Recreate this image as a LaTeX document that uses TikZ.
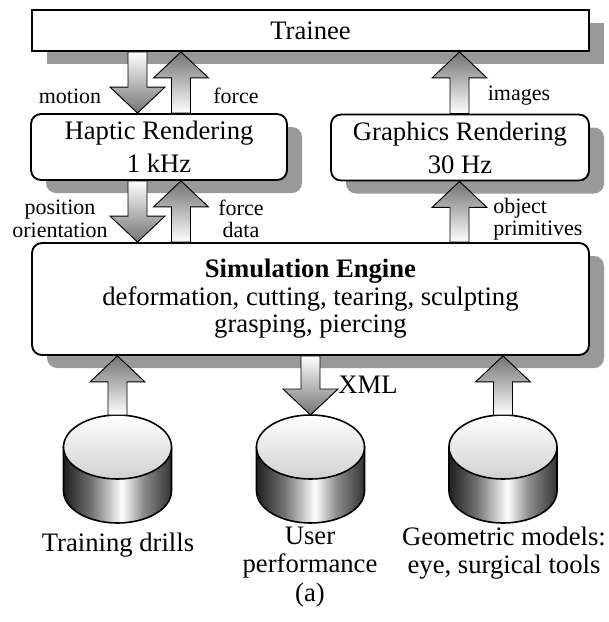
\documentclass[tikz,border=0pt]{standalone}
\usepackage{fontspec}
\setmainfont{Liberation Serif}
\usetikzlibrary{shadows,calc}
\pgfdeclarehorizontalshading{cylbody}{100bp}{color(0bp)=(black!88); color(25bp)=(black!88); color(38bp)=(black!55); color(52bp)=(white); color(62bp)=(black!45); color(75bp)=(black!80); color(100bp)=(black!80)}
\newcommand{\blockarr}[3]{%
  \draw[#1] let \p1=(#2), \p2=(#3), \n1={ifthenelse(\y2>\y1,1,-1)} in
    (\x1-7.125pt,\y1) -- (\x1-7.125pt,\y2-19.5pt*\n1) -- (\x1-20.625pt,\y2-19.5pt*\n1) -- (\x2,\y2)
    -- (\x1+20.625pt,\y2-19.5pt*\n1) -- (\x1+7.125pt,\y2-19.5pt*\n1) -- (\x1+7.125pt,\y1) -- cycle;
}
\newcommand{\dbcyl}[2]{%
  \path[cylline, shade, shading=cylbody] (#2-54,447) -- (#2-54,491) arc[start angle=180, end angle=0, x radius=54, y radius=32] -- (#2+54,447) -- cycle;
  \path[cylline, top color=white, bottom color=black!18] (#2,447) ellipse[x radius=54, y radius=32];
  \coordinate (#1) at (#2,415);
}
\begin{document}
\begin{tikzpicture}[x=0.75pt,y=-0.75pt,
  box/.style={draw, line width=1.4pt, fill=white, inner sep=0pt, align=center,
    font=\fontsize{20}{24.75}\selectfont,
    drop shadow={shadow xshift=11.25pt, shadow yshift=-9.75pt, fill=black!40, opacity=1}},
  rbox/.style={box, rounded corners=7.5pt},
  lbl/.style={inner sep=0pt, align=center, font=\fontsize{16.5}{16.8}\selectfont},
  blbl/.style={inner sep=0pt, align=center, font=\fontsize{20}{21}\selectfont},
  barrow/.style={draw, line width=0.7pt},
  darr/.style={barrow, top color=white, bottom color=black!55},
  uarr/.style={barrow, top color=black!55, bottom color=white},
  cylline/.style={draw, line width=1.2pt}
]
\useasboundingbox (0,0) rectangle (608,622);

\coordinate (cA) at (137.5,0);
\coordinate (cB) at (181,0);
\coordinate (cC) at (459.5,0);

\node[box, minimum width=417.75pt, minimum height=30.75pt] (trainee) at (310.5,30.5) {Trainee};
\node[rbox, minimum width=192pt, minimum height=49.5pt] (haptic) at (159,147) {Haptic Rendering\\1 kHz};
\node[rbox, minimum width=193.5pt, minimum height=49.5pt] (graphics) at (460,147.5) {Graphics Rendering\\30 Hz};
\node[rbox, minimum width=417.75pt, minimum height=84pt, font=\fontsize{20}{20.6}\selectfont] (sim) at (310.5,299)
  {\textbf{Simulation Engine}\\deformation, cutting, tearing, sculpting\\grasping, piercing};

\dbcyl{db1}{117.5}
\dbcyl{db2}{310.5}
\dbcyl{db3}{503}

\blockarr{darr}{trainee.south -| cA}{haptic.north -| cA}
\blockarr{uarr}{haptic.north -| cB}{trainee.south -| cB}
\blockarr{uarr}{graphics.north -| cC}{trainee.south -| cC}
\blockarr{darr}{haptic.south -| cA}{sim.north -| cA}
\blockarr{uarr}{sim.north -| cB}{haptic.south -| cB}
\blockarr{uarr}{sim.north -| cC}{graphics.south -| cC}
\blockarr{uarr}{db1}{sim.south -| db1}
\blockarr{darr}{sim.south -| db2}{db2}
\blockarr{uarr}{db3}{sim.south -| db3}

\node[lbl] (lmotion) at (70,96) {motion};
\node[lbl] (lforce) at (236,96) {force};
\node[lbl] (limages) at (519,96) {images};
\node[lbl] (lpos) at (60,219) {position\\orientation};
\node[lbl] (lfd) at (241,219) {force\\data};
\node[lbl, align=left, anchor=west] (lobj) at (493,219) {object\\primitives};
\node[blbl] (lxml) at (368,385) {XML};
\node[blbl] (ltd) at (118,545) {Training drills};
\node[blbl] (lup) at (310,553) {User\\performance};
\node[blbl] (lgm) at (504,553) {Geometric models:\\eye, surgical tools};
\node[blbl] (la) at (310,595) {(a)};
\end{tikzpicture}
\end{document}
